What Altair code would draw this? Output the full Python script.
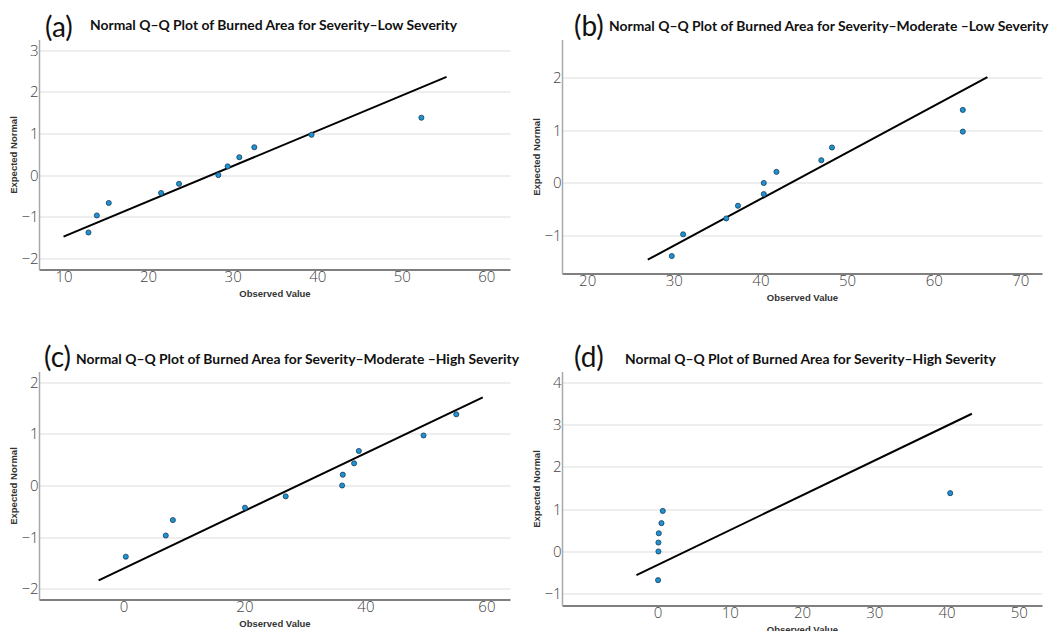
import altair as alt
import pandas as pd

# ---------------- data ----------------
expected = [-1.38, -0.97, -0.67, -0.43, -0.21, 0.0, 0.21, 0.43, 0.67, 0.97, 1.38]

a_obs = [12.95, 13.94, 15.35, 21.54, 23.66, 28.31, 29.41, 30.79, 32.56, 39.33, 52.32]
a_line_x = [10.0, 55.3]
a_line_y = [-1.48, 2.36]

b_obs = [29.77, 31.08, 36.06, 37.41, 40.39, 40.39, 41.85, 47.03, 48.26, 63.36, 63.36]
b_line_x = [27.0, 66.2]
b_line_y = [-1.45, 2.0]

c_obs = [0.39, 7.0, 8.17, 20.09, 26.82, 36.15, 36.26, 38.13, 38.91, 49.61, 55.02]
c_line_x = [-4.1, 59.4]
c_line_y = [-1.84, 1.71]

d_obs = [0.09, 0.14, 0.14, 0.19, 0.56, 0.74, 40.5]
d_exp = [-0.68, 0.0, 0.21, 0.43, 0.67, 0.96, 1.38]
d_line_x = [-2.9, 43.5]
d_line_y = [-0.56, 3.26]

a_xticks = [10, 20, 30, 40, 50, 60]
a_yticks = [-2, -1, 0, 1, 2, 3]
b_xticks = [20, 30, 40, 50, 60, 70]
b_yticks = [-1, 0, 1, 2]
c_xticks = [0, 20, 40, 60]
c_yticks = [-2, -1, 0, 1, 2]
d_xticks = [0, 10, 20, 30, 40, 50]
d_yticks = [-1, 0, 1, 2, 3, 4]

labels = ["(a)", "(b)", "(c)", "(d)"]
titles = [
    "Normal Q\u2013Q Plot of Burned Area for Severity\u2013Low Severity",
    "Normal Q\u2013Q Plot of Burned Area for Severity\u2013Moderate \u2013Low Severity",
    "Normal Q\u2013Q Plot of Burned Area for Severity\u2013Moderate \u2013High Severity",
    "Normal Q\u2013Q Plot of Burned Area for Severity\u2013High Severity",
]

TICK_FONT = "Open Sans"
TITLE_FONT = "Lato"


def panel(obs, exp, lx, ly, xdom, ydom, xticks, yticks, w, h,
          label, title, lab_dx, lab_dy, title_dx, title_dy):
    pts = pd.DataFrame({"obs": obs, "exp": exp})
    ln = pd.DataFrame({"x": [lx[0]], "x2": [lx[1]], "y": [ly[0]], "y2": [ly[1]]})

    xscale = alt.Scale(domain=xdom, nice=False, zero=False)
    yscale = alt.Scale(domain=ydom, nice=False, zero=False)
    xaxis = alt.Axis(values=xticks, grid=False, ticks=False, labelFont=TICK_FONT,
                     labelFontSize=15, labelFontWeight=300, labelColor="#444444",
                     labelPadding=0, domainColor="#555555", domainWidth=1.5,
                     title="Observed Value", titleFont="Liberation Sans",
                     titleFontSize=9.5, titleFontWeight="bold", titleColor="#333333",
                     titlePadding=4)
    yaxis = alt.Axis(values=yticks, grid=True, gridColor="#dddddd", gridWidth=1,
                     ticks=False, labelFont=TICK_FONT, labelFontSize=15,
                     labelFontWeight=300, labelColor="#444444", labelPadding=1,
                     domainColor="#a8a8a8", domainWidth=1.5,
                     title="Expected Normal", titleFont="Liberation Sans",
                     titleFontSize=9.5, titleFontWeight="bold", titleColor="#333333",
                     titlePadding=2)

    line = alt.Chart(ln).mark_rule(color="black", strokeWidth=2).encode(
        x=alt.X("x:Q", scale=xscale, axis=xaxis),
        y=alt.Y("y:Q", scale=yscale, axis=yaxis),
        x2="x2:Q", y2="y2:Q",
    )
    dots = alt.Chart(pts).mark_circle(size=26, color="#1b93d4", opacity=1,
                                     stroke="#1d3b55", strokeWidth=0.8).encode(
        x=alt.X("obs:Q", scale=xscale),
        y=alt.Y("exp:Q", scale=yscale),
    )
    lab = alt.Chart(pd.DataFrame({"t": [label]})).mark_text(
        align="left", baseline="middle", font=TITLE_FONT, fontSize=28,
        color="#111111").encode(
        text="t:N", x=alt.value(lab_dx), y=alt.value(lab_dy))
    ttl = alt.Chart(pd.DataFrame({"t": [title]})).mark_text(
        align="left", baseline="middle", font=TITLE_FONT, fontSize=13.9,
        fontWeight="bold", color="#111111").encode(
        text="t:N", x=alt.value(title_dx), y=alt.value(title_dy))
    return alt.layer(line, dots, lab, ttl).properties(width=w, height=h)


pa = panel(a_obs, expected, a_line_x, a_line_y, [7.1, 62.8], [-2.27, 3.26],
           a_xticks, a_yticks, 471, 230, labels[0], titles[0], 6, -11, 51, -14)
pb = panel(b_obs, expected, b_line_x, b_line_y, [17.1, 72.5], [-1.71, 2.71],
           b_xticks, b_yticks, 480, 234, labels[1], titles[1], 12, -12, 47, -13)
pc = panel(c_obs, expected, c_line_x, c_line_y, [-13.96, 63.9], [-2.21, 2.21],
           c_xticks, c_yticks, 471, 228, labels[2], titles[2], 5, -13, 37, -12)
pd_ = panel(d_obs, d_exp, d_line_x, d_line_y, [-13.2, 53.2], [-1.28, 4.26],
            d_xticks, d_yticks, 480, 234, labels[3], titles[3], 12, -13, 63, -12)

chart = alt.concat(
    pa, pb, pc, pd_, columns=2,
    spacing={"row": 98, "column": 52}, bounds="flush",
).properties(
    padding={"left": 0, "top": 5.5, "right": 0, "bottom": 0},
    background="white",
).configure_view(stroke=None)

chart.save("out.html", embed_options={"renderer": "svg", "actions": False})
